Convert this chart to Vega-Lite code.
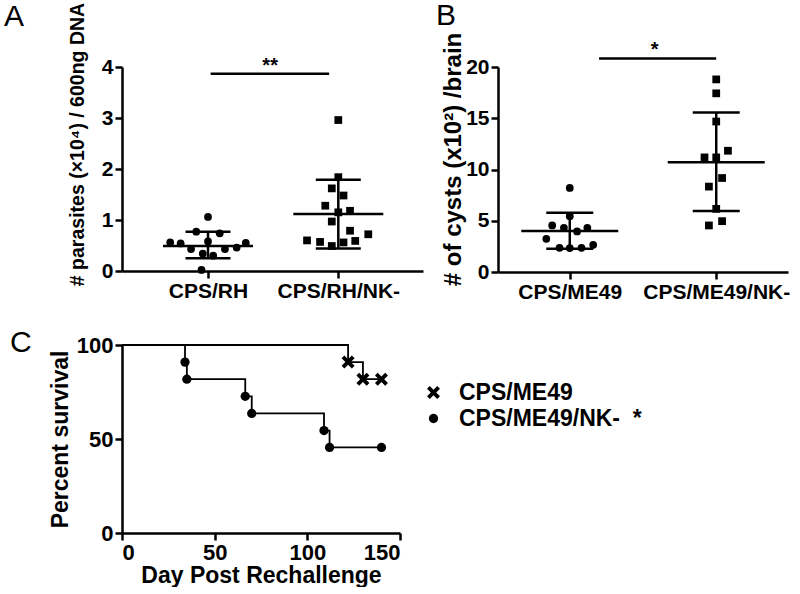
{
  "$schema": "https://vega.github.io/schema/vega-lite/v6.json",
  "padding": {"left": 4, "top": 1, "right": 0, "bottom": 0},
  "background": "white",
  "config": {
    "view": {"stroke": null},
    "font": "Liberation Sans",
    "axis": {
      "grid": false,
      "domainColor": "black", "domainWidth": 2.5,
      "tickColor": "black", "tickWidth": 2.5, "tickSize": 7,
      "labelFont": "Liberation Sans", "labelFontWeight": "bold", "labelColor": "black", "labelFontSize": 21, "labelPadding": 2,
      "titleFont": "Liberation Sans", "titleFontWeight": "bold", "titleColor": "black", "titleFontSize": 21
    },
    "title": {"font": "Liberation Sans", "fontSize": 30, "fontWeight": "normal", "color": "black", "anchor": "start", "frame": "group"}
  },
  "resolve": {"scale": {"shape": "independent"}, "legend": {"shape": "independent"}},
  "spacing": 26,
  "vconcat": [
    {
      "spacing": 13,
      "hconcat": [
        {
          "width": 301, "height": 204,
          "title": {"text": "A", "dx": -118, "offset": -30},
          "layer": [
            {
              "data": {"values": [
                {"group": "CPS/RH", "xpos": 1.00, "value": 1.06},
                {"group": "CPS/RH", "xpos": 0.91, "value": 0.77},
                {"group": "CPS/RH", "xpos": 1.09, "value": 0.74},
                {"group": "CPS/RH", "xpos": 0.71, "value": 0.56},
                {"group": "CPS/RH", "xpos": 0.79, "value": 0.54},
                {"group": "CPS/RH", "xpos": 1.00, "value": 0.58},
                {"group": "CPS/RH", "xpos": 1.29, "value": 0.55},
                {"group": "CPS/RH", "xpos": 1.22, "value": 0.46},
                {"group": "CPS/RH", "xpos": 0.87, "value": 0.43},
                {"group": "CPS/RH", "xpos": 1.13, "value": 0.43},
                {"group": "CPS/RH", "xpos": 0.96, "value": 0.34},
                {"group": "CPS/RH", "xpos": 1.04, "value": 0.30},
                {"group": "CPS/RH", "xpos": 0.95, "value": 0.02},
                {"group": "CPS/RH/NK-", "xpos": 2.00, "value": 2.96},
                {"group": "CPS/RH/NK-", "xpos": 2.00, "value": 1.84},
                {"group": "CPS/RH/NK-", "xpos": 1.95, "value": 1.62},
                {"group": "CPS/RH/NK-", "xpos": 2.04, "value": 1.48},
                {"group": "CPS/RH/NK-", "xpos": 1.90, "value": 1.28},
                {"group": "CPS/RH/NK-", "xpos": 2.00, "value": 1.15},
                {"group": "CPS/RH/NK-", "xpos": 2.09, "value": 1.18},
                {"group": "CPS/RH/NK-", "xpos": 1.95, "value": 0.97},
                {"group": "CPS/RH/NK-", "xpos": 2.09, "value": 0.79},
                {"group": "CPS/RH/NK-", "xpos": 2.23, "value": 0.72},
                {"group": "CPS/RH/NK-", "xpos": 1.76, "value": 0.60},
                {"group": "CPS/RH/NK-", "xpos": 1.86, "value": 0.57},
                {"group": "CPS/RH/NK-", "xpos": 1.95, "value": 0.49},
                {"group": "CPS/RH/NK-", "xpos": 2.04, "value": 0.56},
                {"group": "CPS/RH/NK-", "xpos": 2.13, "value": 0.59}
              ]},
              "layer": [
                {
                  "transform": [{"filter": "datum.group == 'CPS/RH'"}],
                  "mark": {"type": "point", "shape": "circle", "filled": true, "color": "black", "opacity": 1, "size": 60},
                  "encoding": {
                    "x": {"field": "xpos", "type": "quantitative", "scale": {"domain": [0.34, 2.65], "nice": false, "zero": false},
                      "axis": {"title": null, "values": [1, 2], "labelExpr": "datum.value == 1 ? 'CPS/RH' : 'CPS/RH/NK-'"}},
                    "y": {"field": "value", "type": "quantitative", "scale": {"domain": [0, 4], "nice": false},
                      "axis": {"title": "# parasites (×10⁴) / 600ng DNA", "titleFontSize": 19.5, "format": "d", "values": [0, 1, 2, 3, 4], "titlePadding": 14, "titleY": 77}}
                  }
                },
                {
                  "transform": [{"filter": "datum.group == 'CPS/RH/NK-'"}],
                  "mark": {"type": "point", "shape": "square", "filled": true, "color": "black", "opacity": 1, "size": 60},
                  "encoding": {
                    "x": {"field": "xpos", "type": "quantitative"},
                    "y": {"field": "value", "type": "quantitative"}
                  }
                }
              ]
            },
            {
              "data": {"values": [
                {"g": 1, "mean": 0.49, "lo": 0.25, "hi": 0.77},
                {"g": 2, "mean": 1.12, "lo": 0.44, "hi": 1.79}
              ]},
              "layer": [
                {"mark": {"type": "rule", "color": "black", "strokeWidth": 2.5},
                 "encoding": {"x": {"field": "g", "type": "quantitative"}, "y": {"field": "lo", "type": "quantitative"}, "y2": {"field": "hi"}}},
                {"mark": {"type": "tick", "orient": "horizontal", "color": "black", "thickness": 2.5, "size": 90, "opacity": 1},
                 "encoding": {"x": {"field": "g", "type": "quantitative"}, "y": {"field": "mean", "type": "quantitative"}}},
                {"mark": {"type": "tick", "orient": "horizontal", "color": "black", "thickness": 2.5, "size": 45, "opacity": 1},
                 "encoding": {"x": {"field": "g", "type": "quantitative"}, "y": {"field": "lo", "type": "quantitative"}}},
                {"mark": {"type": "tick", "orient": "horizontal", "color": "black", "thickness": 2.5, "size": 45, "opacity": 1},
                 "encoding": {"x": {"field": "g", "type": "quantitative"}, "y": {"field": "hi", "type": "quantitative"}}}
              ]
            },
            {
              "data": {"values": [{"x1": 1.02, "x2": 1.93, "xm": 1.477, "y": 3.87, "label": "**"}]},
              "layer": [
                {"mark": {"type": "rule", "color": "black", "strokeWidth": 2.5, "clip": false},
                 "encoding": {"x": {"field": "x1", "type": "quantitative"}, "x2": {"field": "x2"}, "y": {"field": "y", "type": "quantitative"}}},
                {"mark": {"type": "text", "color": "black", "fontSize": 20, "fontWeight": "bold", "baseline": "bottom", "dy": 2, "clip": false},
                 "encoding": {"x": {"field": "xm", "type": "quantitative"}, "y": {"field": "y", "type": "quantitative"}, "text": {"field": "label"}}}
              ]
            }
          ]
        },
        {
          "width": 290, "height": 205,
          "title": {"text": "B", "dx": -62, "offset": -1, "dy": -2},
          "layer": [
            {
              "data": {"values": [
                {"group": "CPS/ME49", "xpos": 1.00, "value": 8.20},
                {"group": "CPS/ME49", "xpos": 1.00, "value": 5.44},
                {"group": "CPS/ME49", "xpos": 0.88, "value": 4.54},
                {"group": "CPS/ME49", "xpos": 0.96, "value": 4.31},
                {"group": "CPS/ME49", "xpos": 1.05, "value": 3.96},
                {"group": "CPS/ME49", "xpos": 1.12, "value": 4.31},
                {"group": "CPS/ME49", "xpos": 0.84, "value": 3.24},
                {"group": "CPS/ME49", "xpos": 0.93, "value": 2.36},
                {"group": "CPS/ME49", "xpos": 1.00, "value": 2.33},
                {"group": "CPS/ME49", "xpos": 1.08, "value": 2.36},
                {"group": "CPS/ME49", "xpos": 1.16, "value": 2.65},
                {"group": "CPS/ME49/NK-", "xpos": 2.00, "value": 18.79},
                {"group": "CPS/ME49/NK-", "xpos": 2.00, "value": 17.43},
                {"group": "CPS/ME49/NK-", "xpos": 2.00, "value": 14.68},
                {"group": "CPS/ME49/NK-", "xpos": 2.08, "value": 11.83},
                {"group": "CPS/ME49/NK-", "xpos": 1.92, "value": 11.18},
                {"group": "CPS/ME49/NK-", "xpos": 2.00, "value": 11.18},
                {"group": "CPS/ME49/NK-", "xpos": 2.04, "value": 9.17},
                {"group": "CPS/ME49/NK-", "xpos": 1.95, "value": 8.33},
                {"group": "CPS/ME49/NK-", "xpos": 2.00, "value": 6.16},
                {"group": "CPS/ME49/NK-", "xpos": 2.04, "value": 4.96},
                {"group": "CPS/ME49/NK-", "xpos": 1.95, "value": 4.54}
              ]},
              "layer": [
                {
                  "transform": [{"filter": "datum.group == 'CPS/ME49'"}],
                  "mark": {"type": "point", "shape": "circle", "filled": true, "color": "black", "opacity": 1, "size": 60},
                  "encoding": {
                    "x": {"field": "xpos", "type": "quantitative", "scale": {"domain": [0.51, 2.49], "nice": false, "zero": false},
                      "axis": {"title": null, "values": [1, 2], "labelExpr": "datum.value == 1 ? 'CPS/ME49' : 'CPS/ME49/NK-'"}},
                    "y": {"field": "value", "type": "quantitative", "scale": {"domain": [0, 20], "nice": false},
                      "axis": {"title": "# of cysts (x10²) /brain", "format": "d", "titleFontSize": 24, "values": [0, 5, 10, 15, 20], "titlePadding": 0, "titleY": 92}}
                  }
                },
                {
                  "transform": [{"filter": "datum.group == 'CPS/ME49/NK-'"}],
                  "mark": {"type": "point", "shape": "square", "filled": true, "color": "black", "opacity": 1, "size": 60},
                  "encoding": {
                    "x": {"field": "xpos", "type": "quantitative"},
                    "y": {"field": "value", "type": "quantitative"}
                  }
                }
              ]
            },
            {
              "data": {"values": [
                {"g": 1, "mean": 3.99, "lo": 2.27, "hi": 5.77},
                {"g": 2, "mean": 10.70, "lo": 5.96, "hi": 15.56}
              ]},
              "layer": [
                {"mark": {"type": "rule", "color": "black", "strokeWidth": 2.5},
                 "encoding": {"x": {"field": "g", "type": "quantitative"}, "y": {"field": "lo", "type": "quantitative"}, "y2": {"field": "hi"}}},
                {"mark": {"type": "tick", "orient": "horizontal", "color": "black", "thickness": 2.5, "size": 97, "opacity": 1},
                 "encoding": {"x": {"field": "g", "type": "quantitative"}, "y": {"field": "mean", "type": "quantitative"}}},
                {"mark": {"type": "tick", "orient": "horizontal", "color": "black", "thickness": 2.5, "size": 47, "opacity": 1},
                 "encoding": {"x": {"field": "g", "type": "quantitative"}, "y": {"field": "lo", "type": "quantitative"}}},
                {"mark": {"type": "tick", "orient": "horizontal", "color": "black", "thickness": 2.5, "size": 47, "opacity": 1},
                 "encoding": {"x": {"field": "g", "type": "quantitative"}, "y": {"field": "hi", "type": "quantitative"}}}
              ]
            },
            {
              "data": {"values": [{"x1": 1.20, "x2": 2.00, "xm": 1.58, "y": 20.84, "label": "*"}]},
              "layer": [
                {"mark": {"type": "rule", "color": "black", "strokeWidth": 2.5, "clip": false},
                 "encoding": {"x": {"field": "x1", "type": "quantitative"}, "x2": {"field": "x2"}, "y": {"field": "y", "type": "quantitative"}}},
                {"mark": {"type": "text", "color": "black", "fontSize": 20, "fontWeight": "bold", "baseline": "bottom", "dy": 2, "clip": false},
                 "encoding": {"x": {"field": "xm", "type": "quantitative"}, "y": {"field": "y", "type": "quantitative"}, "text": {"field": "label"}}}
              ]
            }
          ]
        }
      ]
    },
    {
      "width": 278, "height": 188,
      "title": {"text": "C", "dx": -112, "offset": -24},
      "data": {"values": [
        {"group": "CPS/ME49", "day": 0, "survival": 100},
        {"group": "CPS/ME49", "day": 122, "survival": 90.9},
        {"group": "CPS/ME49", "day": 130, "survival": 81.8},
        {"group": "CPS/ME49", "day": 140, "survival": 81.8},
        {"group": "CPS/ME49/NK-", "day": 0, "survival": 100},
        {"group": "CPS/ME49/NK-", "day": 34, "survival": 90.9},
        {"group": "CPS/ME49/NK-", "day": 35, "survival": 81.8},
        {"group": "CPS/ME49/NK-", "day": 66.5, "survival": 72.7},
        {"group": "CPS/ME49/NK-", "day": 70, "survival": 63.6},
        {"group": "CPS/ME49/NK-", "day": 109, "survival": 54.5},
        {"group": "CPS/ME49/NK-", "day": 112, "survival": 45.5},
        {"group": "CPS/ME49/NK-", "day": 140, "survival": 45.5}
      ]},
      "encoding": {
        "x": {"field": "day", "type": "quantitative", "scale": {"domain": [0, 150], "nice": false},
          "axis": {"title": "Day Post Rechallenge", "values": [0, 50, 100, 150], "labelFontSize": 22, "titleFontSize": 23, "titlePadding": 1}},
        "y": {"field": "survival", "type": "quantitative", "scale": {"domain": [0, 100], "nice": false},
          "axis": {"title": "Percent survival", "values": [0, 50, 100], "labelFontSize": 22, "titleFontSize": 23, "titlePadding": 4}}
      },
      "layer": [
        {"mark": {"type": "line", "interpolate": "step-after", "color": "black", "strokeWidth": 1.8},
         "encoding": {"detail": {"field": "group"}}},
        {"transform": [{"filter": "datum.day > 0"}],
         "mark": {"type": "point", "filled": true, "fill": "black", "strokeWidth": 0, "opacity": 1, "size": 86},
         "encoding": {
           "shape": {"field": "group", "type": "nominal",
             "scale": {"domain": ["CPS/ME49", "CPS/ME49/NK-"], "range": ["M-1.4,-0.81L-0.81,-1.4L0,-0.59L0.81,-1.4L1.4,-0.81L0.59,0L1.4,0.81L0.81,1.4L0,0.59L-0.81,1.4L-1.4,0.81L-0.59,0Z", "circle"]},
             "legend": {"title": null, "orient": "none", "legendX": 300, "legendY": 36, "labelLimit": 400, "labelOffset": 14,
               "labelFont": "Liberation Sans", "labelFontWeight": "bold", "labelFontSize": 23, "labelColor": "black",
               "symbolSize": 86, "symbolStrokeWidth": 0, "symbolFillColor": "black", "rowPadding": 2,
               "labelExpr": "datum.label == 'CPS/ME49/NK-' ? 'CPS/ME49/NK-\u00a0\u00a0*' : datum.label"}}
         }}
      ]
    }
  ]
}
